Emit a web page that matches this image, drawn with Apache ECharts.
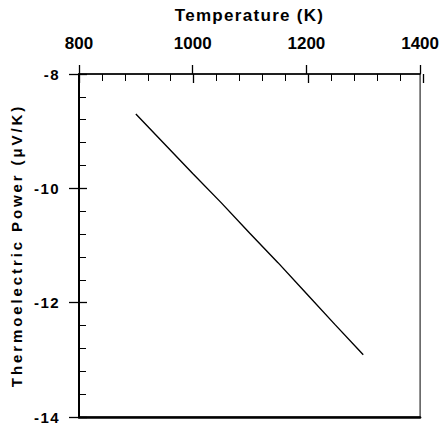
<!DOCTYPE html>
<html>
<head>
<meta charset="utf-8">
<script src="https://cdn.jsdelivr.net/npm/echarts@6/dist/echarts.min.js"></script>
<style>
  html, body { margin: 0; padding: 0; background: #fff; }
  #chart { width: 442px; height: 428px; }
</style>
</head>
<body>
<div id="chart"></div>
<script>
// temperature (K) and thermoelectric power (uV/K)
var temperature = [900, 950, 1000, 1050, 1100, 1150, 1200, 1250, 1300];
var power = [-8.70, -9.22, -9.74, -10.25, -10.78, -11.30, -11.84, -12.38, -12.91];

var xTicks = [800, 1000, 1200, 1400];
var yTicks = [-14, -12, -10, -8];

var xName = "Temperature (K)";
var yName = "Thermoelectric Power (μV/K)";

var font = "'Liberation Sans', Arial, sans-serif";

var chartDom = document.getElementById("chart");
var myChart = echarts.init(chartDom, null, { renderer: "svg" });

var points = temperature.map(function (t, i) {
  return [t, power[i]];
});

var xRange = { min: xTicks[0], max: xTicks[xTicks.length - 1], interval: 200 };
var yRange = { min: yTicks[0], max: yTicks[yTicks.length - 1], interval: 2 };

var plotBox = { left: 79, right: 19, top: 74, bottom: 11 };

function plain(v) {
  return String(v);
}

var option = {
  animation: false,
  grid: [
    Object.assign({ show: true, borderColor: "#000", borderWidth: 1 }, plotBox),
    Object.assign({}, plotBox),
  ],
  xAxis: [
    {
      type: "value",
      gridIndex: 0,
      position: "top",
      min: xRange.min,
      max: xRange.max,
      interval: xRange.interval,
      name: xName,
      nameLocation: "middle",
      nameGap: 50,
      nameTextStyle: { fontFamily: font, fontWeight: "bold", fontSize: 17, color: "#000" },
      axisLine: { lineStyle: { color: "#000", width: 1.5 } },
      axisTick: { show: true, inside: false, length: 9, lineStyle: { color: "#000", width: 1.3 } },
      axisLabel: { margin: 22, formatter: plain, fontFamily: font, fontWeight: "bold", fontSize: 17, color: "#000" },
      splitLine: { show: false },
    },
    {
      type: "value",
      gridIndex: 0,
      position: "bottom",
      min: xRange.min,
      max: xRange.max,
      axisLine: { show: true, lineStyle: { color: "#000", width: 2.5 } },
      axisTick: { show: false },
      axisLabel: { show: false },
      splitLine: { show: false },
    },
    {
      type: "value",
      gridIndex: 1,
      position: "top",
      min: xRange.min,
      max: xRange.max,
      interval: xRange.interval,
      axisLine: { show: false },
      axisTick: { show: true, inside: true, length: 9, lineStyle: { color: "#000", width: 1.3 } },
      minorTick: { show: true, splitNumber: 5, length: 7, lineStyle: { color: "#000", width: 1 } },
      axisLabel: { show: false },
      splitLine: { show: false },
    },
  ],
  yAxis: [
    {
      type: "value",
      gridIndex: 0,
      position: "left",
      min: yRange.min,
      max: yRange.max,
      interval: yRange.interval,
      name: yName,
      nameLocation: "middle",
      nameGap: 55,
      nameTextStyle: { fontFamily: font, fontWeight: "bold", fontSize: 15, color: "#000" },
      axisLine: { lineStyle: { color: "#000", width: 2 } },
      axisTick: { show: true, inside: false, length: 10, lineStyle: { color: "#000", width: 1.3 } },
      axisLabel: { margin: 19, fontFamily: font, fontWeight: "bold", fontSize: 15, color: "#000" },
      splitLine: { show: false },
    },
    {
      type: "value",
      gridIndex: 1,
      position: "left",
      min: yRange.min,
      max: yRange.max,
      interval: yRange.interval,
      axisLine: { show: false },
      axisTick: { show: true, inside: true, length: 8, lineStyle: { color: "#000", width: 1.3 } },
      minorTick: { show: true, splitNumber: 5, length: 7, lineStyle: { color: "#000", width: 1 } },
      axisLabel: { show: false },
      splitLine: { show: false },
    },
  ],
  series: [
    {
      type: "line",
      xAxisIndex: 0,
      yAxisIndex: 0,
      data: points,
      showSymbol: false,
      symbol: "none",
      lineStyle: { color: "#000", width: 1.4 },
    },
  ],
};

myChart.setOption(option);

// the original figure has wide letter spacing in its axis texts
var spacing = {};
spacing[xName] = "1.3px";
spacing[yName] = "2.9px";
chartDom.querySelectorAll("text").forEach(function (el) {
  var s = spacing[el.textContent];
  if (s) {
    el.style.letterSpacing = s;
  } else if (/^-\d+$/.test(el.textContent)) {
    el.style.letterSpacing = "1.4px";
  }
});
</script>
</body>
</html>
